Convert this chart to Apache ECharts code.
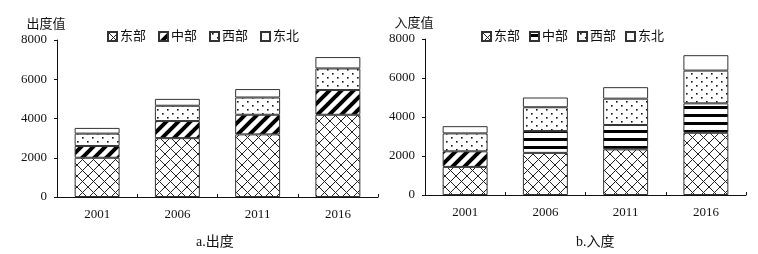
<!DOCTYPE html>
<html>
<head>
<meta charset="utf-8">
<script src="https://cdn.jsdelivr.net/npm/echarts@6/dist/echarts.min.js"></script>
<style>
  html, body { margin: 0; padding: 0; background: #fff; }
  .wrap { width: 758px; height: 254px; display: flex; }
  .chart { width: 379px; height: 254px; }
</style>
</head>
<body>
<div class="wrap">
  <div class="chart" id="outChart"></div>
  <div class="chart" id="inChart"></div>
</div>
<script>
// data
const years = ['2001', '2006', '2011', '2016']
const regions = ['东部', '中部', '西部', '东北']

// 出度
const outEast = [2000, 3000, 3190, 4190]
const outCentral = [600, 870, 1000, 1260]
const outWest = [630, 780, 880, 1100]
const outNortheast = [290, 350, 430, 580]

// 入度
const inEast = [1440, 2160, 2340, 3190]
const inCentral = [800, 1120, 1250, 1510]
const inWest = [920, 1220, 1350, 1680]
const inNortheast = [370, 500, 590, 790]

const yTicks = [0, 2000, 4000, 6000, 8000]

// 填充图案
function makeTile(w, h, draw) {
  const c = document.createElement('canvas')
  c.width = w
  c.height = h
  const ctx = c.getContext('2d')
  ctx.fillStyle = '#fff'
  ctx.fillRect(0, 0, w, h)
  draw(ctx, w, h)
  return { image: c, repeat: 'repeat' }
}

const crossFill = makeTile(11, 11, (ctx, w, h) => {
  ctx.strokeStyle = '#222'
  ctx.lineWidth = 1
  ctx.beginPath()
  ctx.moveTo(0, 0); ctx.lineTo(w, h)
  ctx.moveTo(w, 0); ctx.lineTo(0, h)
  ctx.stroke()
})

const diagFill = makeTile(12, 12, (ctx, w, h) => {
  ctx.strokeStyle = '#000'
  ctx.lineWidth = 4
  ctx.beginPath()
  ctx.moveTo(-2, h + 2); ctx.lineTo(w + 2, -2)
  ctx.moveTo(-w / 2 - 2, h / 2 + 2); ctx.lineTo(w / 2 + 2, -h / 2 - 2)
  ctx.moveTo(w / 2 - 2, h * 1.5 + 2); ctx.lineTo(w * 1.5 + 2, h / 2 - 2)
  ctx.stroke()
})

const dotFill = makeTile(10, 8, (ctx) => {
  ctx.fillStyle = '#111'
  ctx.fillRect(2, 1, 1.6, 1.6)
  ctx.fillRect(7, 5, 1.6, 1.6)
})

const stripeFill = makeTile(8, 8, (ctx, w) => {
  ctx.fillStyle = '#000'
  ctx.fillRect(0, 2, w, 3)
})

const serif = '"Liberation Serif", "Times New Roman", "Noto Sans CJK SC", serif'

const baseOption = (gridPos, yName) => ({
  backgroundColor: '#fff',
  animation: false,
  textStyle: { fontFamily: serif, color: '#111' },
  legend: {
    top: 25,
    left: gridPos.legendLeft,
    itemWidth: 9,
    itemHeight: 9,
    itemGap: gridPos.legendGap,
    icon: 'rect',
    textStyle: { fontFamily: serif, fontSize: 13, color: '#111', padding: [0, 0, 0, -2] },
    data: regions
  },
  grid: {
    left: gridPos.left,
    right: gridPos.right,
    top: gridPos.top,
    bottom: gridPos.bottom
  },
  xAxis: {
    type: 'category',
    data: years,
    axisLine: { lineStyle: { color: '#111', width: 1 } },
    axisTick: { show: true, inside: true, length: 3, lineStyle: { color: '#111' } },
    axisLabel: { fontFamily: serif, fontSize: 13, color: '#111', margin: 11 }
  },
  yAxis: {
    type: 'value',
    min: 0,
    max: 8000,
    interval: 2000,
    name: yName,
    nameLocation: 'end',
    nameGap: 9,
    nameTextStyle: { fontFamily: serif, fontSize: 13, color: '#111', padding: [0, 22, 0, 0] },
    axisLine: { show: true, lineStyle: { color: '#111', width: 1 } },
    axisTick: { show: true, length: 3, lineStyle: { color: '#111' } },
    splitLine: { show: false },
    axisLabel: {
      fontFamily: serif,
      fontSize: 13,
      color: '#111',
      margin: 10,
      formatter: (v) => (yTicks.includes(v) ? String(v) : '')
    }
  },
  title: {
    text: gridPos.title,
    left: gridPos.titleLeft,
    top: 230,
    textStyle: { fontFamily: serif, fontSize: 14, fontWeight: 'normal', color: '#111' }
  }
})

const barSeries = (name, values, fill) => ({
  name,
  type: 'bar',
  stack: 'total',
  barWidth: '56%',
  itemStyle: { color: fill, borderColor: '#333', borderWidth: 1 },
  data: values
})

// a.出度
const outChart = echarts.init(document.getElementById('outChart'))
const outOption = baseOption(
  { left: 57, right: 1, top: 40, bottom: 57, legendLeft: 102, legendGap: 12, title: 'a.出度', titleLeft: 191 },
  '出度值'
)
outOption.series = [
  barSeries('东部', outEast, crossFill),
  barSeries('中部', outCentral, diagFill),
  barSeries('西部', outWest, dotFill),
  barSeries('东北', outNortheast, '#fff')
]
outChart.setOption(outOption)

// b.入度
const inChart = echarts.init(document.getElementById('inChart'))
const inOption = baseOption(
  { left: 46, right: 12, top: 39, bottom: 59, legendLeft: 97, legendGap: 9, title: 'b.入度', titleLeft: 192 },
  '入度值'
)
const inCentralSeries = barSeries('中部', inCentral, stripeFill)
// 2001 年中部在原图中用斜线填充
inCentralSeries.data = inCentral.map((v, i) => (i === 0 ? { value: v, itemStyle: { color: diagFill } } : v))
inOption.series = [
  barSeries('东部', inEast, crossFill),
  inCentralSeries,
  barSeries('西部', inWest, dotFill),
  barSeries('东北', inNortheast, '#fff')
]
inChart.setOption(inOption)
</script>
</body>
</html>
